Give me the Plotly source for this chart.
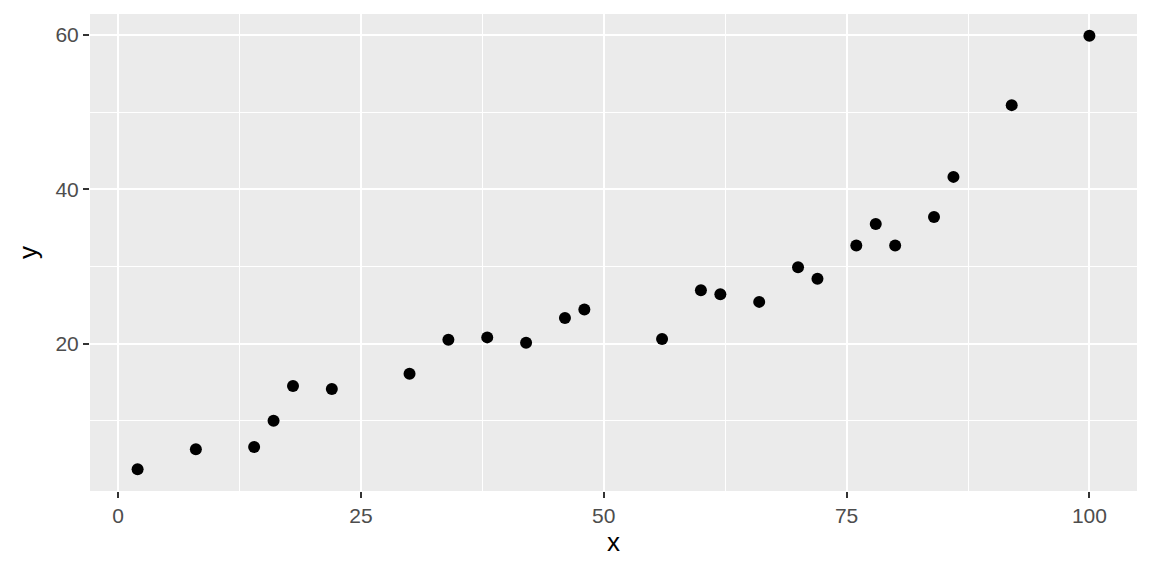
import plotly.graph_objects as go

x_vals = [2, 8, 14, 16, 18, 22, 30, 34, 38, 42, 46, 48, 56, 60, 62, 66, 70, 72, 76, 78, 80, 84, 86, 92, 100]
y_vals = [3.7, 6.3, 6.6, 10.0, 14.5, 14.1, 16.1, 20.5, 20.8, 20.1, 23.3, 24.4, 20.6, 26.9, 26.4, 25.4, 29.9, 28.4, 32.7, 35.5, 32.7, 36.4, 41.6, 50.9, 59.9]
x_ticks = [0, 25, 50, 75, 100]
y_ticks = [20, 40, 60]

xmin, xmax = min(x_vals), max(x_vals)
ymin, ymax = min(y_vals), max(y_vals)
xpad = 0.05 * (xmax - xmin)
ypad = 0.05 * (ymax - ymin)

FONT = "Liberation Sans, Arial, sans-serif"

fig = go.Figure()
fig.add_trace(go.Scatter(
    x=x_vals, y=y_vals, mode="markers",
    marker=dict(color="black", size=12, line=dict(width=0)),
    showlegend=False, hoverinfo="x+y",
))

axis_common = dict(
    showgrid=True, gridcolor="white", gridwidth=2.2,
    zeroline=False, showline=False,
    ticks="outside", ticklen=6, tickwidth=2, tickcolor="#333333",
    tickfont=dict(family=FONT, size=21, color="#4D4D4D"),
    title_font=dict(family=FONT, size=26, color="black"),
)

fig.update_xaxes(
    **axis_common,
    range=[xmin - xpad, xmax + xpad],
    tickvals=x_ticks, ticktext=[str(v) for v in x_ticks],
    minor=dict(tickvals=[12.5, 37.5, 62.5, 87.5], showgrid=True, gridcolor="white", gridwidth=1.1, ticks=""),
    title_text="x", title_standoff=6,
)
fig.update_yaxes(
    **axis_common,
    range=[ymin - ypad, ymax + ypad],
    tickvals=y_ticks, ticktext=[str(v) for v in y_ticks],
    minor=dict(tickvals=[10, 30, 50], showgrid=True, gridcolor="white", gridwidth=1.1, ticks=""),
    title_text="y", title_standoff=10,
)

fig.update_layout(
    width=1152, height=576,
    paper_bgcolor="white", plot_bgcolor="#EBEBEB",
    margin=dict(l=90, r=15, t=14, b=85),
    font=dict(family=FONT),
)

fig.write_html("out.html", config={"displayModeBar": False},
               post_script="document.body.style.margin='0';")
